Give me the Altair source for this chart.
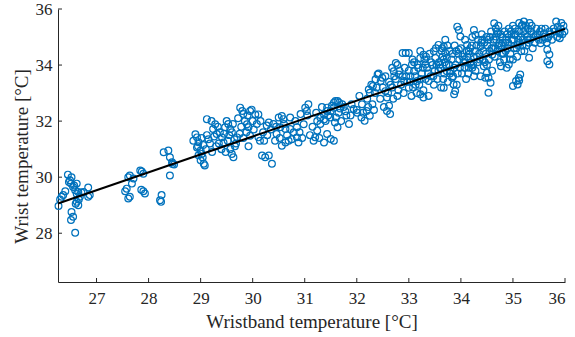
import altair as alt
import pandas as pd

# ---- data (wristband temp, wrist temp) ----
cluster_26 = [
    (26.27, 28.97), (26.33, 29.30), (26.36, 29.36), (26.45, 30.09), (26.49, 29.89),
    (26.52, 30.00), (26.51, 29.77), (26.55, 29.65), (26.59, 29.53), (26.62, 29.77),
    (26.65, 29.47), (26.68, 29.30), (26.62, 29.12), (26.65, 29.00), (26.52, 28.76),
    (26.55, 28.59), (26.51, 28.47), (26.59, 28.02), (26.84, 29.63), (26.84, 29.30),
    (26.87, 29.36), (26.75, 29.47), (26.71, 29.45), (26.62, 29.40), (26.47, 29.83),
    (26.57, 29.70), (26.40, 29.50), (26.30, 29.20), (26.66, 29.20), (26.60, 29.05),
]
cluster_27 = [
    (27.58, 29.59), (27.61, 30.00), (27.64, 30.06), (27.68, 29.77), (27.55, 29.50),
    (27.61, 29.24), (27.64, 29.30), (27.71, 29.95), (27.84, 30.24), (27.87, 30.20),
    (27.90, 30.12), (27.86, 29.55), (27.90, 29.50), (27.93, 29.42),
]
cluster_28 = [
    (28.25, 29.36), (28.22, 29.18), (28.24, 29.12), (28.29, 30.89), (28.38, 30.95),
    (28.41, 30.71), (28.45, 30.53), (28.46, 30.47), (28.41, 30.06), (28.49, 30.45),
]
cluster_29 = [
    (28.90, 31.53), (28.93, 31.42), (28.86, 31.30), (28.96, 31.25), (28.93, 31.06),
    (29.00, 30.95), (29.02, 30.83), (28.96, 30.78), (29.00, 30.60), (29.06, 30.48),
    (29.08, 30.42), (29.12, 32.07), (29.21, 32.00), (29.28, 31.89), (29.24, 31.72),
    (29.31, 31.54), (29.37, 31.60), (29.41, 31.42), (29.44, 31.24), (29.47, 31.78),
    (29.50, 32.00), (29.53, 31.90), (29.57, 31.72), (29.60, 31.60), (29.57, 31.00),
    (29.60, 30.83), (29.63, 30.71), (29.66, 31.10), (29.70, 31.42), (29.76, 32.48),
    (29.80, 32.36), (29.82, 32.25), (29.85, 32.00), (29.89, 31.89), (29.92, 31.78),
    (29.95, 32.36), (29.98, 32.41), (29.95, 31.48), (29.92, 31.10), (29.05, 31.15),
    (29.15, 31.35), (29.35, 31.20), (29.65, 31.35), (29.75, 31.55),
    (28.95, 31.10), (29.02, 31.40), (29.04, 30.70), (29.10, 31.00), (29.12, 31.50),
    (29.18, 31.20), (29.22, 30.90), (29.26, 31.45), (29.30, 31.10), (29.33, 31.80),
    (29.40, 31.00), (29.45, 31.55), (29.48, 30.90), (29.52, 31.30), (29.55, 31.50),
    (29.62, 31.90), (29.68, 31.20), (29.72, 32.10), (29.78, 31.80), (29.82, 31.40),
    (29.88, 31.60), (29.90, 32.20),
]
cluster_30 = [
    (30.05, 32.24), (30.11, 32.24), (30.18, 30.77), (30.24, 30.71), (30.31, 30.77),
    (30.37, 30.48), (30.11, 31.42), (30.14, 31.30), (30.27, 31.84), (30.31, 31.95),
    (30.43, 31.30), (30.46, 31.54), (30.50, 32.13), (30.56, 32.18), (30.59, 32.07),
    (30.53, 31.78), (30.63, 31.72), (30.56, 31.12), (30.63, 31.24), (30.69, 31.30),
    (30.72, 31.72), (30.72, 32.13), (30.79, 31.60), (30.85, 31.78), (30.85, 31.42),
    (30.88, 31.24), (30.98, 31.89), (30.92, 32.25), (30.20, 31.60), (30.40, 31.90),
    (30.00, 32.00), (30.02, 31.70), (30.08, 31.90), (30.15, 32.00), (30.22, 31.30),
    (30.28, 31.50), (30.35, 31.70), (30.45, 31.80), (30.52, 31.40), (30.60, 31.90),
    (30.66, 31.50), (30.75, 31.35), (30.82, 32.00), (30.90, 31.60), (30.95, 31.40),
]
cluster_31 = [
    (31.01, 32.48), (31.07, 32.60), (31.04, 32.36), (31.17, 31.30), (31.20, 31.42),
    (31.24, 31.66), (31.30, 32.13), (31.37, 32.24), (31.43, 32.48), (31.50, 32.36),
    (31.56, 32.66), (31.63, 32.72), (31.60, 32.13), (31.43, 31.54), (31.50, 31.36),
    (31.56, 31.30), (31.37, 31.24), (31.24, 32.00), (31.37, 32.06), (31.49, 32.13),
    (31.59, 32.72), (31.66, 32.66), (31.72, 32.60), (31.56, 32.48), (31.43, 32.36),
    (31.30, 31.90), (31.63, 31.78), (31.65, 32.30), (31.70, 32.00), (31.75, 32.50),
    (31.80, 32.20), (31.85, 31.90), (31.90, 32.60), (31.94, 32.43),
    (31.05, 32.20), (31.10, 31.50), (31.15, 31.80), (31.22, 32.30), (31.28, 31.40),
    (31.33, 32.50), (31.40, 32.00), (31.45, 32.20), (31.52, 32.55), (31.58, 31.95),
    (31.68, 32.45), (31.78, 32.35), (31.88, 32.20),
]
cluster_32 = [
    (32.01, 32.30), (32.09, 32.13), (32.15, 32.01), (32.19, 32.36), (32.25, 32.19),
    (32.23, 33.13), (32.25, 33.01), (32.31, 33.25), (32.36, 33.49), (32.40, 33.66),
    (32.46, 33.43), (32.49, 33.55), (32.55, 33.07), (32.58, 32.84), (32.62, 32.55),
    (32.58, 32.36), (32.64, 32.25), (32.68, 33.90), (32.71, 33.78), (32.75, 34.07),
    (32.78, 34.00), (32.81, 33.66), (32.88, 34.43), (32.94, 34.43), (32.91, 33.43),
    (32.00, 32.40), (32.05, 32.90), (32.10, 32.60), (32.20, 32.80), (32.30, 32.60),
    (32.35, 33.00), (32.45, 32.80), (32.50, 33.20), (32.55, 33.60), (32.60, 33.00),
    (32.65, 33.30), (32.70, 32.80), (32.75, 33.50), (32.80, 33.10), (32.85, 33.30),
    (32.90, 33.00), (32.95, 33.60),
    (32.12, 32.30), (32.22, 32.50), (32.28, 33.30), (32.33, 32.40), (32.38, 33.20),
    (32.42, 33.70), (32.52, 32.50), (32.62, 33.40), (32.68, 33.20), (32.72, 33.60),
    (32.78, 32.90), (32.82, 33.80), (32.88, 33.60), (32.92, 33.90), (32.97, 33.40),
]
cluster_33 = [
    (33.00, 34.43), (33.00, 33.19), (33.06, 34.02), (33.10, 33.78), (33.16, 33.43),
    (33.22, 34.25), (33.28, 34.37), (33.32, 34.02), (33.22, 32.96), (33.28, 32.84),
    (33.38, 33.43), (33.48, 34.49), (33.51, 34.25), (33.57, 34.72), (33.64, 34.60),
    (33.67, 34.66), (33.60, 34.02), (33.73, 34.25), (33.67, 33.19), (33.70, 34.43),
    (33.67, 34.20), (33.77, 34.02), (33.73, 33.78), (33.83, 33.55), (33.86, 33.31),
    (33.89, 33.07), (33.93, 35.37), (33.96, 35.25), (33.99, 35.02), (33.96, 34.55),
    (33.87, 32.96), (33.00, 33.80), (33.02, 33.40), (33.05, 32.90), (33.08, 33.20),
    (33.10, 34.10), (33.12, 33.60), (33.15, 33.00), (33.18, 33.90), (33.20, 33.30),
    (33.22, 34.50), (33.25, 33.70), (33.28, 33.10), (33.30, 34.20), (33.32, 33.50),
    (33.35, 33.90), (33.38, 32.90), (33.40, 34.40), (33.42, 33.60), (33.45, 34.00),
    (33.48, 33.30), (33.50, 33.80), (33.52, 34.60), (33.55, 33.50), (33.58, 34.10),
    (33.60, 33.90), (33.62, 33.20), (33.65, 34.30), (33.68, 33.70), (33.70, 34.90),
    (33.72, 34.00), (33.75, 33.40), (33.78, 34.50), (33.80, 33.80), (33.82, 34.20),
    (33.85, 33.60), (33.88, 34.70), (33.90, 34.00), (33.92, 33.30), (33.95, 34.40),
    (33.98, 33.90),
    (33.03, 33.60), (33.07, 34.20), (33.13, 33.30), (33.17, 34.00), (33.23, 33.50),
    (33.27, 33.90), (33.33, 34.30), (33.37, 33.70), (33.43, 34.10), (33.47, 33.60),
    (33.53, 34.00), (33.57, 33.80), (33.63, 34.50), (33.66, 33.50), (33.69, 34.10),
    (33.74, 34.70), (33.79, 33.70), (33.84, 34.40), (33.87, 33.90), (33.91, 34.50),
    (33.94, 33.70), (33.97, 34.20),
]
cluster_34 = [
    (34.06, 34.20), (34.12, 34.72), (34.15, 34.49), (34.18, 34.08), (34.25, 35.25),
    (34.28, 35.07), (34.22, 33.90), (34.25, 33.60), (34.31, 34.30), (34.38, 34.67),
    (34.41, 34.90), (34.44, 33.96), (34.50, 33.72), (34.47, 33.55), (34.53, 33.55),
    (34.57, 33.37), (34.60, 34.37), (34.64, 35.49), (34.67, 35.31), (34.71, 35.13),
    (34.67, 35.02), (34.74, 34.78), (34.80, 34.43), (34.83, 34.20), (34.87, 34.90),
    (34.96, 35.20), (34.77, 33.96), (34.92, 34.02), (34.53, 33.01), (34.00, 34.60),
    (34.02, 33.70), (34.05, 34.10), (34.08, 34.90), (34.10, 33.50), (34.12, 34.30),
    (34.15, 33.90), (34.18, 34.60), (34.20, 34.00), (34.22, 35.00), (34.25, 34.30),
    (34.28, 33.80), (34.30, 34.70), (34.32, 34.10), (34.35, 34.40), (34.38, 33.60),
    (34.40, 35.10), (34.42, 34.20), (34.45, 34.80), (34.48, 34.40), (34.50, 34.00),
    (34.52, 34.90), (34.55, 34.50), (34.58, 35.20), (34.60, 33.80), (34.62, 34.60),
    (34.65, 34.30), (34.68, 34.90), (34.70, 34.50), (34.72, 35.40), (34.75, 34.10),
    (34.78, 34.70), (34.80, 35.00), (34.82, 34.40), (34.85, 34.80), (34.88, 33.90),
    (34.90, 34.60), (34.92, 35.30), (34.95, 34.40), (34.98, 34.90),
    (34.03, 34.30), (34.07, 33.90), (34.11, 34.50), (34.14, 33.70), (34.17, 34.40),
    (34.21, 34.70), (34.24, 34.00), (34.27, 34.50), (34.33, 34.90), (34.36, 34.20),
    (34.39, 34.80), (34.43, 34.50), (34.46, 34.10), (34.49, 35.00), (34.51, 34.70),
    (34.54, 34.20), (34.56, 35.00), (34.59, 34.60), (34.63, 34.90), (34.66, 34.60),
    (34.69, 35.20), (34.73, 34.70), (34.76, 35.10), (34.79, 34.40), (34.81, 34.80),
    (34.84, 35.20), (34.86, 34.50), (34.89, 35.10), (34.91, 34.80), (34.94, 34.20),
    (34.97, 35.10),
]
cluster_35 = [
    (35.03, 35.07), (35.09, 34.72), (35.16, 34.49), (35.18, 35.43), (35.21, 35.55),
    (35.24, 35.25), (35.28, 34.90), (35.31, 34.26), (35.14, 33.66), (35.11, 33.54),
    (35.09, 33.31), (35.06, 33.43), (35.00, 33.25), (35.12, 33.45), (35.44, 35.07),
    (35.53, 34.78), (35.60, 35.13), (35.66, 34.96), (35.70, 35.20), (35.66, 34.55),
    (35.70, 34.38), (35.66, 34.14), (35.70, 34.02), (35.83, 35.55), (35.86, 35.37),
    (35.90, 35.13), (35.90, 34.96), (35.00, 34.20), (35.00, 35.40), (35.02, 34.60),
    (35.05, 35.10), (35.08, 34.30), (35.10, 34.90), (35.12, 35.50), (35.15, 35.00),
    (35.18, 34.70), (35.20, 35.20), (35.22, 34.50), (35.25, 35.40), (35.28, 35.00),
    (35.30, 34.80), (35.32, 35.50), (35.35, 35.20), (35.38, 34.60), (35.40, 35.00),
    (35.45, 35.30), (35.50, 34.90), (35.55, 35.30), (35.60, 35.00), (35.65, 34.80),
    (35.72, 35.10), (35.80, 35.20), (35.85, 35.00), (35.92, 35.30), (35.95, 35.10),
    (35.97, 35.40), (35.99, 35.20),
    (35.01, 34.90), (35.04, 35.30), (35.07, 34.60), (35.11, 35.20), (35.13, 34.80),
    (35.17, 35.40), (35.19, 34.90), (35.23, 35.10), (35.26, 34.70), (35.29, 35.30),
    (35.33, 34.90), (35.36, 35.40), (35.39, 35.10), (35.42, 34.80), (35.47, 35.10),
    (35.52, 35.20), (35.57, 34.90), (35.62, 35.30), (35.68, 35.00), (35.75, 34.90),
    (35.78, 35.30), (35.88, 35.20), (35.93, 35.50),
]

# least-squares fit line end points
fit_x = [26.26, 36.0]
fit_y = [29.06, 35.29]

x_ticks = [27, 28, 29, 30, 31, 32, 33, 34, 35, 36]
y_ticks = [28, 30, 32, 34, 36]
domain = [26.26, 36.0]

points = (cluster_26 + cluster_27 + cluster_28 + cluster_29 + cluster_30 +
          cluster_31 + cluster_32 + cluster_33 + cluster_34 + cluster_35)
df = pd.DataFrame(points, columns=["band", "wrist"])
fit = pd.DataFrame({"band": fit_x, "wrist": fit_y})

W, H = 507, 273
FONT = "Liberation Serif"
AX = "#262626"
BLUE = "#0072BD"

xscale = alt.Scale(domain=domain, nice=False, zero=False)
yscale = alt.Scale(domain=domain, nice=False, zero=False)

xaxis = alt.Axis(values=x_ticks, title="Wristband temperature [°C]", grid=False,
                 ticks=False, labelPadding=8, titlePadding=6, domainColor=AX,
                 labelColor=AX, titleColor=AX, labelFont=FONT, titleFont=FONT,
                 labelFontSize=17, titleFontSize=19, titleFontWeight="normal")
yaxis = alt.Axis(values=y_ticks, title="Wrist temperature [°C]", grid=False,
                 ticks=False, labelPadding=6, titlePadding=4, domainColor=AX,
                 labelColor=AX, titleColor=AX, labelFont=FONT, titleFont=FONT,
                 labelFontSize=17, titleFontSize=19, titleFontWeight="normal",
                 titleY=147)

scatter = alt.Chart(df).mark_point(shape="circle", filled=False, size=46,
                                   strokeWidth=1.2, color=BLUE, opacity=1).encode(
    x=alt.X("band:Q", scale=xscale, axis=xaxis),
    y=alt.Y("wrist:Q", scale=yscale, axis=yaxis),
)

line = alt.Chart(fit).mark_line(color="black", strokeWidth=2).encode(
    x=alt.X("band:Q", scale=xscale),
    y=alt.Y("wrist:Q", scale=yscale),
)

xt = alt.Chart(pd.DataFrame({"v": x_ticks})).mark_rule(color=AX, strokeWidth=1).encode(
    x=alt.X("v:Q", scale=xscale), y=alt.value(H), y2=alt.value(H - 4))
yt = alt.Chart(pd.DataFrame({"v": y_ticks})).mark_rule(color=AX, strokeWidth=1).encode(
    y=alt.Y("v:Q", scale=yscale), x=alt.value(0), x2=alt.value(4))

chart = alt.layer(scatter, line, xt, yt).properties(
    width=W, height=H,
    autosize=alt.AutoSizeParams(type="none"),
    padding={"left": 58, "top": 9, "right": 10, "bottom": 55},
).configure_view(stroke=None).configure_axis(domainWidth=1)

chart.save("out.html", embed_options={"renderer": "svg", "actions": False})
